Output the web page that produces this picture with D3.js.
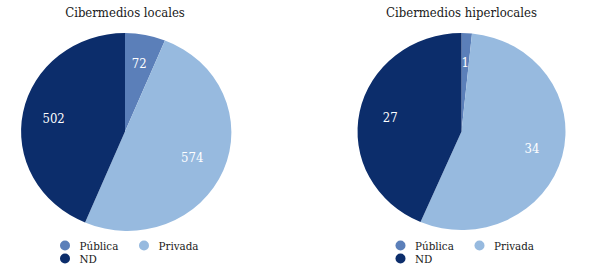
<!DOCTYPE html>
<html><head><meta charset="utf-8">
<script src="https://cdn.jsdelivr.net/npm/d3@7"></script>
<style>html,body{margin:0;padding:0;background:#fff;}svg{display:block;}
text{font-family:"DejaVu Serif Condensed","DejaVu Serif",serif;font-stretch:condensed;}</style>
</head><body>
<svg id="chart" width="589" height="274"></svg>
<script>
const categories = ["Pública", "Privada", "ND"];
const titles = ["Cibermedios locales", "Cibermedios hiperlocales"];
const localesValues = [72, 574, 502];
const hiperlocalesValues = [1, 34, 27];
const colors = ["#5b7fb9", "#97badf", "#0c2d6b"];

const svg = d3.select("#chart");
const color = d3.scaleOrdinal().domain(categories).range(colors);

const panels = [
  {title: titles[0], values: localesValues, cx: 125, legendX: 65},
  {title: titles[1], values: hiperlocalesValues, cx: 461.5, legendX: 400.5}
];
const cy = 131.5, rx = 104, ry = 98.5;

const pie = d3.pie().sort(null).value(d => d.v);
const arc = d3.arc().innerRadius(0).outerRadius(1);
const labelArc = d3.arc().innerRadius(0.7).outerRadius(0.7);

panels.forEach(p => {
  const data = categories.map((c, i) => ({c, v: p.values[i]}));
  const arcs = pie(data);
  svg.append("text").attr("x", p.cx).attr("y", 17).attr("text-anchor", "middle")
    .style("font-size", "13px").attr("fill", "#1a1a1a").text(p.title);
  const g = svg.append("g").attr("transform", `translate(${p.cx},${cy}) scale(${rx},${ry})`);
  g.selectAll("path").data(arcs).enter().append("path")
    .attr("d", arc).attr("fill", d => color(d.data.c));
  const lg = svg.append("g").attr("transform", `translate(${p.cx},${cy})`);
  lg.selectAll("text").data(arcs).enter().append("text")
    .attr("x", d => labelArc.centroid(d)[0] * rx)
    .attr("y", d => labelArc.centroid(d)[1] * ry)
    .attr("text-anchor", "middle").attr("dominant-baseline", "central")
    .style("font-size", "13px").attr("fill", "#ffffff")
    .text(d => d.data.v);
  const legPos = [
    {dx: 0, dy: 245.5}, {dx: 79, dy: 245.5}, {dx: 0, dy: 258.5}
  ];
  categories.forEach((c, i) => {
    const x = p.legendX + legPos[i].dx, y = legPos[i].dy;
    svg.append("circle").attr("cx", x).attr("cy", y).attr("r", 5).attr("fill", color(c));
    svg.append("text").attr("x", x + 14.5).attr("y", y + 4.3)
      .style("font-size", "11.5px").attr("fill", "#1a1a1a").text(c);
  });
});
</script>
</body></html>
